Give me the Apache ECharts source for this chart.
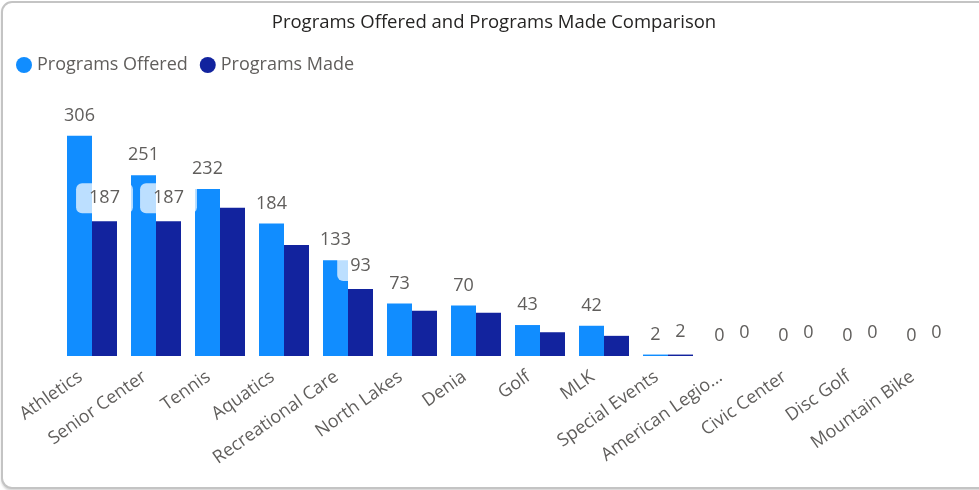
<!DOCTYPE html>
<html><head><meta charset="utf-8">
<script src="https://cdn.jsdelivr.net/npm/echarts@6/dist/echarts.min.js"></script>
<style>
html,body{margin:0;padding:0;background:#fff;width:979px;height:490px;overflow:hidden;}
#card{position:absolute;left:1px;top:1px;width:995px;height:484px;border:2px solid #c4c4c4;border-radius:11px;box-shadow:0 2px 2px rgba(0,0,0,0.15);background:#fff;}
#chart{position:absolute;left:0;top:0;width:979px;height:490px;}
</style></head>
<body><div id="card"></div><div id="chart"></div>
<script>
const categories = ['Athletics','Senior Center','Tennis','Aquatics','Recreational Care','North Lakes','Denia','Golf','MLK','Special Events','American Legio...','Civic Center','Disc Golf','Mountain Bike'];
const programsOffered = [306,251,232,184,133,73,70,43,42,2,0,0,0,0];
const programsMade = [187,187,206,154,93,63,60,33,28,2,0,0,0,0];
const madeLabelHidden = ['Tennis','Aquatics','North Lakes','Denia','Golf','MLK'];

const FONT = '"Open Sans", "Noto Sans", sans-serif';
const chart = echarts.init(document.getElementById('chart'), null, {renderer:'canvas'});
chart.setOption({
  animation:false,
  title:{text:'Programs Offered and Programs Made Comparison',left:489,textAlign:'center',top:8,
    textStyle:{fontFamily:FONT,fontSize:18.5,fontWeight:'normal',color:'#252423'}},
  legend:{left:11,top:51,itemWidth:16,itemHeight:16,itemGap:12,icon:'circle',
    textStyle:{fontFamily:FONT,fontSize:18,color:'#605E5C'},
    data:['Programs Offered','Programs Made']},
  grid:{left:60,right:23,top:104,bottom:134,containLabel:false},
  xAxis:{type:'category',data:categories,
    axisLine:{show:false},axisTick:{show:false},
    axisLabel:{rotate:35,interval:0,margin:11,padding:[0,14,0,0],fontFamily:FONT,fontSize:18,color:'#605E5C'}},
  yAxis:{type:'value',min:0,max:350,show:false,splitLine:{show:false}},
  series:[
    {name:'Programs Offered',type:'bar',barWidth:25,barGap:'0%',
      itemStyle:{color:'#118DFF'},
      label:{show:true,position:'top',distance:11,fontFamily:FONT,fontSize:18,color:'#605E5C'},
      data:programsOffered},
    {name:'Programs Made',type:'bar',barWidth:25,barGap:'0%',
      itemStyle:{color:'#12239E'},
      label:{show:true,position:'top',distance:8,fontFamily:FONT,fontSize:18,color:'#605E5C',
        backgroundColor:'rgba(255,255,255,0.72)',padding:[6,13,6,13],borderRadius:6,lineHeight:18},
      data:programsMade.map((v,i)=>({value:v,label:{show:madeLabelHidden.indexOf(categories[i])<0}}))}
  ]
});
</script></body></html>
